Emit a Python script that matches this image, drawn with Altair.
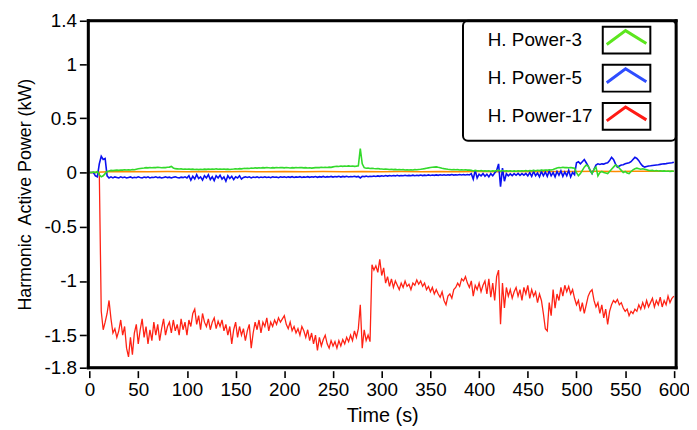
import altair as alt
import pandas as pd

FONT = "Liberation Sans"

# ---- data ----
STEP = 2          # seconds between samples of the three main series
ORANGE_STEP = 20  # seconds between samples of the reference (orange) trace

power17 = [  # red, t = 0 .. 600 s
    0, 0, 0, 0, 0, 0, -1.28, -1.45, -1.38, -1.30,
    -1.18, -1.35, -1.48, -1.44, -1.52, -1.46, -1.36, -1.50, -1.42, -1.62,
    -1.70, -1.52, -1.68, -1.48, -1.40, -1.58, -1.45, -1.35, -1.52, -1.42,
    -1.58, -1.45, -1.55, -1.38, -1.50, -1.40, -1.55, -1.44, -1.35, -1.50,
    -1.42, -1.38, -1.48, -1.36, -1.46, -1.40, -1.50, -1.35, -1.45, -1.38,
    -1.50, -1.36, -1.42, -1.30, -1.26, -1.40, -1.32, -1.45, -1.30, -1.38,
    -1.42, -1.35, -1.45, -1.38, -1.34, -1.44, -1.37, -1.42, -1.36, -1.46,
    -1.40, -1.50, -1.42, -1.58, -1.45, -1.38, -1.52, -1.42, -1.50, -1.44,
    -1.55, -1.46, -1.40, -1.62, -1.48, -1.38, -1.45, -1.36, -1.48, -1.38,
    -1.42, -1.34, -1.46, -1.38, -1.42, -1.36, -1.40, -1.34, -1.38, -1.35,
    -1.32, -1.40, -1.44, -1.38, -1.46, -1.42, -1.48, -1.44, -1.50, -1.42,
    -1.46, -1.52, -1.45, -1.55, -1.48, -1.58, -1.50, -1.64, -1.52, -1.60,
    -1.54, -1.50, -1.58, -1.62, -1.55, -1.60, -1.56, -1.62, -1.55, -1.60,
    -1.54, -1.58, -1.52, -1.56, -1.50, -1.55, -1.46, -1.52, -1.44, -1.22,
    -1.62, -1.45, -1.55, -1.50, -1.56, -0.85, -0.90, -0.86, -0.92, -0.80,
    -0.95, -0.88, -1.02, -0.96, -1.05, -0.98, -1.06, -1.00, -1.04, -1.08,
    -1.02, -1.06, -1.00, -1.05, -1.03, -1.08, -1.02, -1.04, -0.99, -1.03,
    -1.00, -1.05, -1.02, -1.08, -1.05, -1.10, -1.06, -1.12, -1.08, -1.12,
    -1.15, -1.10, -1.18, -1.22, -1.14, -1.12, -1.16, -1.08, -1.06, -1.02,
    -1.05, -0.98, -1.00, -0.96, -1.02, -1.06, -1.00, -1.14, -1.04, -1.08,
    -1.02, -1.10, -1.04, -1.00, -1.12, -0.98, -1.15, -1.02, -1.18, -0.96,
    -0.90, -1.40, -1.02, -1.25, -1.06, -1.14, -1.08, -1.16, -1.10, -1.06,
    -1.14, -1.08, -1.18, -1.06, -1.12, -1.04, -1.16, -1.08, -1.14, -1.10,
    -1.20, -1.12, -1.18, -1.30, -1.44, -1.46, -1.20, -1.32, -1.08, -1.25,
    -1.12, -1.18, -1.06, -1.14, -1.04, -1.10, -1.05, -1.12, -1.08, -1.16,
    -1.22, -1.18, -1.28, -1.20, -1.30, -1.22, -1.14, -1.10, -1.08, -1.18,
    -1.24, -1.20, -1.30, -1.22, -1.34, -1.26, -1.40, -1.28, -1.22, -1.18,
    -1.20, -1.17, -1.22, -1.20, -1.25, -1.28, -1.26, -1.32, -1.28, -1.30,
    -1.26, -1.28, -1.22, -1.26, -1.20, -1.25, -1.18, -1.24, -1.20, -1.16,
    -1.24, -1.18, -1.22, -1.15, -1.24, -1.18, -1.22, -1.14, -1.20, -1.16,
    -1.14,
]

power5 = [  # blue
    0.0, 0.0, 0.0, -0.03, -0.04, 0.08, 0.15, 0.12, 0.13, -0.03,
    -0.05, -0.04, -0.05, -0.04, -0.045, -0.05, -0.04, -0.048, -0.042, -0.05,
    -0.045, -0.04, -0.05, -0.044, -0.048, -0.04, -0.046, -0.05, -0.042, -0.047,
    -0.04, -0.05, -0.044, -0.046, -0.04, -0.048, -0.043, -0.05, -0.045, -0.04,
    -0.047, -0.043, -0.05, -0.044, -0.04, -0.046, -0.05, -0.043, -0.047, -0.04,
    -0.05, -0.03, -0.07, -0.035, -0.06, -0.02, -0.055, -0.04, -0.07, -0.03,
    -0.05, -0.02, -0.065, -0.04, -0.075, -0.03, -0.05, -0.025, -0.06, -0.04,
    -0.08, -0.03, -0.055, -0.035, -0.065, -0.04, -0.05, -0.03, -0.06, -0.045,
    -0.04, -0.046, -0.04, -0.05, -0.042, -0.045, -0.04, -0.048, -0.042, -0.046,
    -0.04, -0.045, -0.042, -0.048, -0.04, -0.044, -0.041, -0.047, -0.04, -0.044,
    -0.04, -0.046, -0.04, -0.044, -0.038, -0.045, -0.04, -0.043, -0.038, -0.045,
    -0.04, -0.043, -0.038, -0.044, -0.039, -0.042, -0.037, -0.044, -0.038, -0.042,
    -0.036, -0.043, -0.038, -0.041, -0.036, -0.042, -0.037, -0.04, -0.035, -0.042,
    -0.036, -0.04, -0.035, -0.041, -0.036, -0.039, -0.034, -0.04, -0.036, -0.05,
    -0.035, -0.038, -0.033, -0.039, -0.034, -0.037, -0.032, -0.036, -0.031, -0.035,
    -0.03, -0.034, -0.028, -0.033, -0.027, -0.032, -0.028, -0.031, -0.026, -0.031,
    -0.027, -0.03, -0.025, -0.03, -0.026, -0.029, -0.024, -0.029, -0.025, -0.028,
    -0.023, -0.028, -0.024, -0.027, -0.022, -0.027, -0.023, -0.026, -0.022, -0.026,
    -0.021, -0.025, -0.02, -0.025, -0.021, -0.024, -0.019, -0.024, -0.02, -0.023,
    -0.018, -0.023, -0.019, -0.022, -0.018, -0.022, -0.01, -0.06, 0.02, -0.05,
    -0.015, -0.03, -0.01, -0.035, -0.015, -0.04, -0.01, -0.03, -0.005, 0.02,
    0.08, -0.13, 0.04, -0.08, -0.01, -0.03, -0.012, -0.028, -0.01, -0.025,
    -0.008, -0.026, -0.01, -0.024, -0.008, -0.03, 0.0, -0.035, 0.01, -0.03,
    -0.005, -0.04, 0.01, -0.03, 0.005, -0.035, 0.015, -0.03, 0.0, -0.04,
    0.01, -0.025, 0.015, -0.035, 0.005, -0.03, 0.02, -0.04, 0.0, -0.02,
    0.09, 0.1, 0.08, 0.1, 0.12, 0.09, 0.06, 0.02, -0.01, 0.03,
    0.07, 0.08, 0.075, 0.08, 0.078, 0.085, 0.09, 0.11, 0.14, 0.12,
    0.08, 0.05, 0.06, 0.07, 0.072, 0.08, 0.085, 0.09, 0.1, 0.12,
    0.14, 0.13, 0.11, 0.08, 0.06, 0.05, 0.055, 0.06, 0.062, 0.065,
    0.068, 0.07, 0.072, 0.075, 0.078, 0.08, 0.082, 0.085, 0.088, 0.09,
    0.095,
]

power3 = [  # green
    0.0, 0.0, 0.005, 0.0, 0.01, -0.02, -0.04, -0.03, -0.01, 0.01,
    0.015, 0.02, 0.018, 0.02, 0.022, 0.02, 0.024, 0.022, 0.025, 0.023,
    0.026, 0.024, 0.028, 0.026, 0.03, 0.034, 0.038, 0.04, 0.042, 0.045,
    0.043, 0.046, 0.044, 0.047, 0.045, 0.048, 0.046, 0.044, 0.047, 0.045,
    0.048, 0.05, 0.056, 0.042, 0.036, 0.034, 0.032, 0.034, 0.031, 0.033,
    0.03, 0.032, 0.029, 0.031, 0.028, 0.03, 0.027, 0.03, 0.028, 0.031,
    0.029, 0.032, 0.03, 0.033, 0.03, 0.034, 0.031, 0.033, 0.03, 0.032,
    0.029, 0.031, 0.028, 0.03, 0.032, 0.035, 0.033, 0.036, 0.034, 0.037,
    0.038, 0.04, 0.038, 0.042, 0.04, 0.043, 0.041, 0.044, 0.042, 0.045,
    0.043, 0.046, 0.044, 0.042, 0.045, 0.043, 0.046, 0.044, 0.047, 0.045,
    0.043, 0.046, 0.044, 0.042, 0.045, 0.043, 0.046, 0.044, 0.047, 0.045,
    0.043, 0.045, 0.042, 0.044, 0.041, 0.043, 0.045, 0.047, 0.045, 0.048,
    0.046, 0.049, 0.047, 0.05, 0.048, 0.052, 0.055, 0.058, 0.056, 0.06,
    0.057, 0.06, 0.058, 0.061, 0.058, 0.06, 0.057, 0.059, 0.062, 0.22,
    0.08, 0.045, 0.04, 0.042, 0.038, 0.04, 0.037, 0.035, 0.037, 0.034,
    0.032, 0.03, 0.033, 0.031, 0.028, 0.03, 0.027, 0.029, 0.026, 0.028,
    0.025, 0.027, 0.024, 0.026, 0.023, 0.026, 0.024, 0.027, 0.025, 0.028,
    0.03, 0.033, 0.036, 0.04, 0.043, 0.046, 0.048, 0.05, 0.052, 0.048,
    0.045, 0.04, 0.036, 0.033, 0.03, 0.028, 0.026, 0.028, 0.025, 0.027,
    0.024, 0.026, 0.023, 0.025, 0.022, 0.024, 0.02, 0.015, 0.02, 0.017,
    0.015, 0.018, 0.014, 0.017, 0.013, 0.016, 0.012, 0.016, 0.013, 0.018,
    0.02, 0.012, 0.018, 0.014, 0.017, 0.013, 0.016, 0.012, 0.015, 0.012,
    0.016, 0.013, 0.017, 0.014, 0.018, 0.015, 0.019, 0.016, 0.02, 0.017,
    0.021, 0.018, 0.022, 0.02, 0.024, 0.022, 0.026, 0.024, 0.028, 0.035,
    0.042, 0.046, 0.044, 0.048, 0.045, 0.047, 0.044, 0.046, 0.043, 0.04,
    0.0, -0.03, -0.01, 0.02, 0.05, 0.07, 0.06, 0.02, -0.01, 0.03,
    0.05, -0.03, 0.0, 0.01, 0.0, -0.005, -0.01, 0.01, 0.03, 0.05,
    0.07, 0.06, 0.04, 0.02, 0.0, 0.01, -0.005, -0.01, 0.01, 0.025,
    0.035, 0.04, 0.035, 0.03, 0.035, 0.03, 0.025, 0.02, 0.018, 0.02,
    0.015, 0.018, 0.014, 0.017, 0.013, 0.015, 0.012, 0.014, 0.011, 0.013,
    0.012,
]

reference_trace = [  # orange, every 20 s
    0.0, 0.008, 0.01, 0.008, 0.009, 0.007, 0.01, 0.008, 0.009, 0.007,
    0.01, 0.008, 0.009, 0.008, 0.01, 0.007, 0.009, 0.008, 0.01, 0.008,
    0.009, 0.007, 0.01, 0.008, 0.01, 0.009, 0.011, 0.01, 0.012, 0.011,
    0.012,
]

legend_labels = ["H. Power-3", "H. Power-5", "H. Power-17"]
legend_colors = ["#5ce61e", "#2e4dff", "#ff1a14"]
line_colors = {"p3": "#33d92b", "p5": "#0a10f0", "p17": "#ff2214", "ref": "#ff8a00"}

x_ticks = [0, 50, 100, 150, 200, 250, 300, 350, 400, 450, 500, 550, 600]
y_ticks = [-1.8, -1.5, -1, -0.5, 0, 0.5, 1, 1.4]


def frame(values, step):
    return pd.DataFrame({"t": [i * step for i in range(len(values))], "v": values})


W, H = 593, 350

x_enc = alt.X(
    "t:Q",
    scale=alt.Scale(domain=[-1.3, 602.3], nice=False, zero=False),
    axis=alt.Axis(
        values=x_ticks, title="Time (s)", offset=3, tickSize=7, tickWidth=1.6,
        tickColor="black", labelColor="black", labelFont=FONT,
        labelFontSize=19, labelPadding=3, labelFlush=False,
        domain=False, grid=False, zindex=0,
        titleFont=FONT, titleFontWeight="normal", titleColor="black",
        titleFontSize=20, titleY=51.5, titleBaseline="alphabetic",
    ),
)
y_enc = alt.Y(
    "v:Q",
    scale=alt.Scale(domain=[-1.8, 1.4], nice=False, zero=False),
    axis=alt.Axis(
        values=y_ticks, title="Harmonic\u00a0 Active Power (kW)", offset=2,
        tickSize=7, tickWidth=1.6, tickColor="black", labelColor="black",
        labelFont=FONT, labelFontSize=19, labelPadding=3,
        labelExpr="'' + datum.value", labelFlush=False,
        domain=False, grid=False, zindex=0,
        titleFont=FONT, titleFontWeight="normal", titleColor="black",
        titleFontSize=18, titleX=-61.5, titleBaseline="middle", titleAlign="center",
        titleY=H / 2,
    ),
)


def line(values, step, color, width):
    return alt.Chart(frame(values, step)).mark_line(
        color=color, strokeWidth=width
    ).encode(x=x_enc, y=y_enc)


layers = [
    line(power17, STEP, line_colors["p17"], 1.3),
    line(reference_trace, ORANGE_STEP, line_colors["ref"], 1.5),
    line(power5, STEP, line_colors["p5"], 1.6),
    line(power3, STEP, line_colors["p3"], 1.6),
]

dummy = pd.DataFrame({"k": [0]})

# ---- legend (drawn as decoration in the top-right corner) ----
layers.append(
    alt.Chart(dummy).mark_rect(
        fill="white", stroke="black", strokeWidth=2, cornerRadius=5
    ).encode(x=alt.value(378), x2=alt.value(593), y=alt.value(0), y2=alt.value(121))
)
for i, (lab, col) in enumerate(zip(legend_labels, legend_colors)):
    ry = 19.5 + i * 38.5
    layers.append(
        alt.Chart(dummy).mark_text(
            text=lab, align="left", baseline="middle", font=FONT, fontSize=19, color="black"
        ).encode(x=alt.value(403), y=alt.value(ry))
    )
    layers.append(
        alt.Chart(dummy).mark_point(
            shape="M-1,-0.5625L1,-0.5625L1,0.5625L-1,0.5625Z", size=2304,
            filled=False, color="black", strokeWidth=2, opacity=1,
        ).encode(x=alt.value(543), y=alt.value(ry))
    )
    layers.append(
        alt.Chart(dummy).mark_point(
            shape="M-1,0.35L-0.05,-0.35L1,0.3", size=1600,
            filled=False, color=col, strokeWidth=3, opacity=1,
        ).encode(x=alt.value(543), y=alt.value(ry - 2.5))
    )


# ---- plot frame (four rules round the plotting area, drawn last) ----
def rule(**enc):
    return alt.Chart(dummy).mark_rule(color="#000000", strokeWidth=3, opacity=1).encode(**enc)


layers += [
    rule(x=alt.value(-1.5), x2=alt.value(W + 1.5), y=alt.value(0)),
    rule(x=alt.value(-1.5), x2=alt.value(W + 1.5), y=alt.value(H)),
    rule(x=alt.value(0), y=alt.value(-1.5), y2=alt.value(H + 1.5)),
    rule(x=alt.value(W), y=alt.value(-1.5), y2=alt.value(H + 1.5)),
]

chart = (
    alt.layer(*layers)
    .properties(
        width=W, height=H,
        background="white",
        autosize=alt.AutoSizeParams(type="none"),
        padding={"left": 81, "top": 11, "right": 13, "bottom": 61},
    )
    .configure_view(stroke="#000000", strokeWidth=2)
)

chart.save("out.html", embed_options={"renderer": "svg", "actions": False})
